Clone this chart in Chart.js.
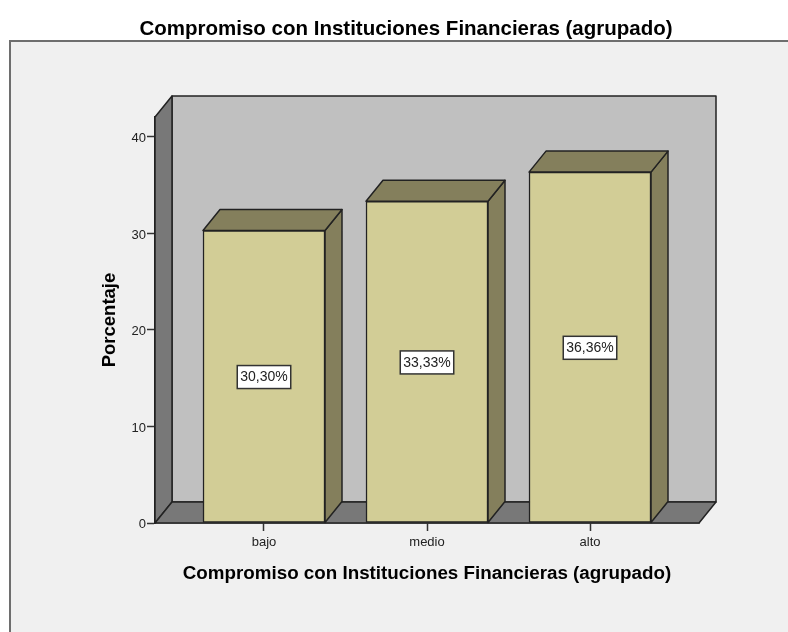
<!DOCTYPE html>
<html>
<head>
<meta charset="utf-8">
<style>
  html, body { margin: 0; padding: 0; background: #fff; }
  #wrap { width: 788px; height: 632px; }
</style>
<script src="https://cdn.jsdelivr.net/npm/chart.js@4"></script>
</head>
<body>
<div id="wrap"><canvas id="chart" width="788" height="632"></canvas></div>
<script>
const categories = ["bajo", "medio", "alto"];
const percentages = [30.30, 33.33, 36.36];
const valueLabels = ["30,30%", "33,33%", "36,36%"];
const yTicks = [0, 10, 20, 30, 40];

const titleText = "Compromiso con Instituciones Financieras (agrupado)";
const font = "'Liberation Sans', Arial, sans-serif";
const outline = "#222";

// oblique offset of the SPSS style 3d box
const depthX = 17;
const depthY = -21;

function face(ctx, pts, fill) {
  ctx.beginPath();
  ctx.moveTo(pts[0][0], pts[0][1]);
  pts.slice(1).forEach(function (p) { ctx.lineTo(p[0], p[1]); });
  ctx.closePath();
  ctx.fillStyle = fill;
  ctx.fill();
  ctx.lineWidth = 1.5;
  ctx.strokeStyle = outline;
  ctx.stroke();
}

const backdrop = {
  id: "backdrop",
  beforeDraw(chart) {
    const ctx = chart.ctx;
    ctx.save();
    ctx.fillStyle = "#fff";
    ctx.fillRect(0, 0, chart.width, chart.height);
    ctx.fillStyle = "#f0f0f0";
    ctx.fillRect(9, 40, chart.width - 9, chart.height - 40);
    ctx.fillStyle = "#6e6e6e";
    ctx.fillRect(9, 40, chart.width - 9, 2);
    ctx.fillRect(9, 40, 2, chart.height - 40);
    ctx.restore();
  },
};

const box3d = {
  id: "box3d",
  beforeDatasetsDraw(chart) {
    const ctx = chart.ctx;
    const a = chart.chartArea;
    const dx = depthX;
    const dy = depthY;
    ctx.save();
    ctx.lineJoin = "round";
    face(ctx, [[a.left + dx, a.top + dy], [a.right + dx, a.top + dy], [a.right + dx, a.bottom + dy], [a.left + dx, a.bottom + dy]], "#c0c0c0");
    face(ctx, [[a.left, a.top], [a.left + dx, a.top + dy], [a.left + dx, a.bottom + dy], [a.left, a.bottom]], "#787878");
    face(ctx, [[a.left, a.bottom], [a.left + dx, a.bottom + dy], [a.right + dx, a.bottom + dy], [a.right, a.bottom]], "#787878");

    chart.getDatasetMeta(0).data.forEach(function (bar) {
      const l = bar.x - bar.width / 2;
      const r = bar.x + bar.width / 2;
      face(ctx, [[r, bar.y], [r + dx, bar.y + dy], [r + dx, bar.base + dy], [r, bar.base]], "#847f5c");
      face(ctx, [[l, bar.y], [l + dx, bar.y + dy], [r + dx, bar.y + dy], [r, bar.y]], "#847f5c");
    });
    ctx.restore();
  },
  afterDatasetsDraw(chart) {
    const ctx = chart.ctx;
    ctx.save();
    ctx.font = "14px " + font;
    ctx.textAlign = "center";
    ctx.textBaseline = "middle";
    chart.getDatasetMeta(0).data.forEach(function (bar, i) {
      const cy = (bar.y + bar.base) / 2;
      const w = ctx.measureText(valueLabels[i]).width + 6;
      ctx.fillStyle = "#fff";
      ctx.fillRect(bar.x - w / 2, cy - 11, w, 23);
      ctx.lineWidth = 1.5;
      ctx.strokeStyle = "#333";
      ctx.strokeRect(bar.x - w / 2, cy - 11, w, 23);
      ctx.fillStyle = "#222";
      ctx.fillText(valueLabels[i], bar.x, cy + 1);
    });
    ctx.restore();
  },
};

new Chart(document.getElementById("chart").getContext("2d"), {
  type: "bar",
  data: {
    datasets: [{
      data: percentages.map(function (v, i) { return { x: i, y: v }; }),
      backgroundColor: "#d2cd96",
      borderColor: outline,
      borderWidth: 1.5,
      borderSkipped: false,
      barThickness: 122,
    }],
  },
  plugins: [backdrop, box3d],
  options: {
    responsive: false,
    animation: false,
    events: [],
    layout: { padding: { left: 24, right: 0, top: 0, bottom: 0 } },
    plugins: {
      legend: { display: false },
      tooltip: { enabled: false },
      title: {
        display: true,
        text: titleText,
        color: "#000",
        font: { family: font, size: 20.5, weight: "bold", lineHeight: 1.2 },
        padding: { top: 17, bottom: 75.4 },
      },
    },
    scales: {
      x: {
        type: "linear",
        offset: false,
        bounds: "data",
        min: -0.6687,
        max: 2.6687,
        afterBuildTicks(scale) {
          scale.ticks = categories.map(function (c, i) { return { value: i }; });
        },
        afterFit(scale) {
          scale.height = 109;
          scale.paddingRight = 89;
        },
        ticks: {
          autoSkip: false,
          maxRotation: 0,
          padding: 4,
          color: "#222",
          font: { family: font, size: 13 },
          callback(v) { return categories[v]; },
        },
        grid: { offset: false, drawOnChartArea: false, tickLength: 8, tickColor: "#333", tickWidth: 1.5 },
        border: { color: outline, width: 1.5 },
        title: {
          display: true,
          text: titleText,
          color: "#000",
          font: { family: font, size: 18.8, weight: "bold", lineHeight: 1.2 },
          padding: { top: 8, bottom: 47.2 },
        },
      },
      y: {
        min: 0,
        max: 42.07,
        bounds: "data",
        afterBuildTicks(scale) {
          scale.ticks = yTicks.map(function (v) { return { value: v }; });
        },
        afterFit(scale) { scale.width = 131; },
        ticks: {
          padding: 1,
          labelOffset: 1.5,
          color: "#222",
          font: { family: font, size: 13 },
        },
        grid: { drawOnChartArea: false, tickLength: 8, tickColor: "#333", tickWidth: 1.5 },
        border: { color: outline, width: 1.5 },
        title: {
          display: true,
          text: "Porcentaje",
          color: "#000",
          font: { family: font, size: 18.5, weight: "bold", lineHeight: 1.2 },
          padding: { top: 75, bottom: 0 },
        },
      },
    },
  },
});
</script>
</body>
</html>
